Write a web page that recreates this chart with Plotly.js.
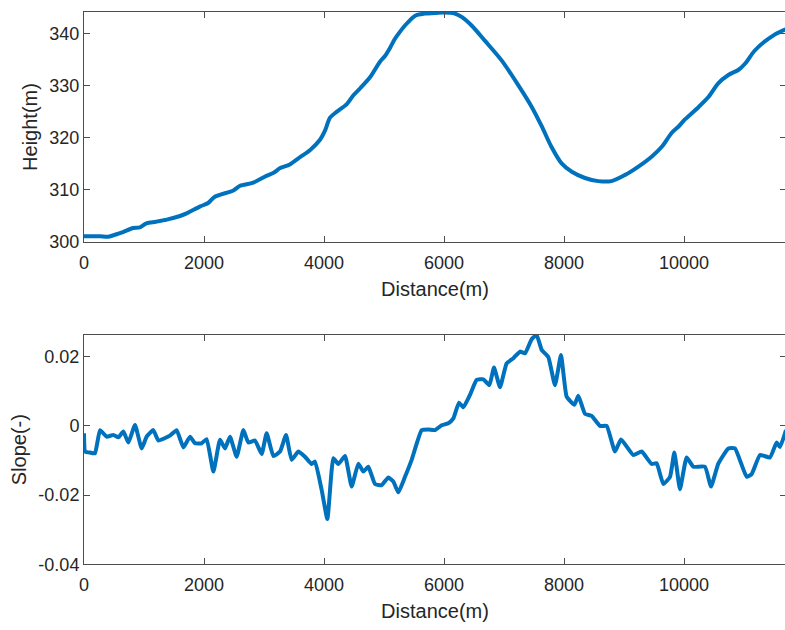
<!DOCTYPE html>
<html>
<head>
<meta charset="utf-8">
<script src="https://cdn.plot.ly/plotly-3.0.1.min.js"></script>
<style>
html, body { margin: 0; padding: 0; overflow: hidden; background: #fff; }
#chart { width: 790px; height: 630px; }
</style>
</head>
<body>
<div id="chart"></div>
<script>
// Height profile
const heightDist = [0, 150, 270, 400, 490, 650, 820, 930, 1040, 1200, 1380, 1600, 1710, 1930, 2070, 2180, 2490, 2600, 2820, 3040, 3160, 3270, 3430, 3600, 3770, 3930, 4020, 4100, 4210, 4380, 4490, 4600, 4770, 4930, 5020, 5100, 5180, 5240, 5350, 5520, 5680, 5850, 5990, 6180, 6300, 6460, 6680, 6960, 7240, 7460, 7630, 7790, 7960, 8130, 8350, 8570, 8790, 9020, 9240, 9460, 9630, 9790, 9910, 10020, 10240, 10410, 10570, 10740, 10910, 11020, 11180, 11410, 11660, 11750];
const heightVals = [301.1, 301.1, 301.1, 301.0, 301.3, 301.9, 302.7, 302.8, 303.6, 303.9, 304.3, 305.0, 305.5, 306.8, 307.5, 308.7, 309.9, 310.8, 311.4, 312.7, 313.3, 314.2, 314.9, 316.3, 317.7, 319.6, 321.5, 323.9, 325.0, 326.5, 328.2, 329.5, 331.7, 334.6, 335.8, 337.3, 339.0, 340.0, 341.6, 343.5, 343.9, 344.0, 344.1, 343.9, 343.2, 341.6, 338.7, 334.9, 330.1, 326.0, 322.2, 318.3, 315.1, 313.5, 312.3, 311.7, 311.7, 312.9, 314.5, 316.4, 318.3, 320.9, 322.2, 323.6, 325.9, 327.9, 330.5, 332.1, 333.1, 334.3, 336.8, 339.1, 340.7, 341.0];

// Slope profile
const slopeDist = [0, 20, 100, 183, 267, 378, 489, 572, 656, 739, 850, 961, 1044, 1156, 1239, 1433, 1544, 1656, 1767, 1850, 1961, 2044, 2156, 2267, 2350, 2433, 2544, 2656, 2739, 2850, 2961, 3044, 3156, 3267, 3367, 3461, 3572, 3683, 3794, 3850, 3961, 4056, 4156, 4239, 4350, 4461, 4572, 4656, 4739, 4850, 4961, 5072, 5156, 5239, 5350, 5461, 5628, 5739, 5850, 5961, 6072, 6156, 6250, 6322, 6433, 6544, 6656, 6756, 6833, 6933, 7044, 7156, 7267, 7350, 7461, 7544, 7628, 7739, 7850, 7950, 8044, 8172, 8239, 8350, 8461, 8600, 8711, 8850, 8950, 9156, 9294, 9461, 9544, 9656, 9767, 9839, 9933, 10044, 10156, 10350, 10450, 10572, 10739, 10850, 11044, 11128, 11267, 11433, 11544, 11600, 11700];
const slopeVals = [-0.0021, -0.0074, -0.0077, -0.0079, -0.0012, -0.0031, -0.0026, -0.0033, -0.0016, -0.0048, 0.0003, -0.0065, -0.0031, -0.0012, -0.0042, -0.0028, -0.0012, -0.0062, -0.0031, -0.0050, -0.0050, -0.0038, -0.0132, -0.0040, -0.0065, -0.0031, -0.0089, -0.0012, -0.0048, -0.0042, -0.0081, -0.0021, -0.0087, -0.0074, -0.0026, -0.0098, -0.0074, -0.0089, -0.0110, -0.0103, -0.0185, -0.0269, -0.0093, -0.0110, -0.0087, -0.0175, -0.0109, -0.0132, -0.0118, -0.0168, -0.0171, -0.0149, -0.0161, -0.0192, -0.0147, -0.0098, -0.0012, -0.0010, -0.0012, 0.0002, 0.0008, 0.0022, 0.0067, 0.0054, 0.0090, 0.0133, 0.0135, 0.0118, 0.0169, 0.0112, 0.0181, 0.0196, 0.0215, 0.0210, 0.0251, 0.0263, 0.0220, 0.0199, 0.0118, 0.0205, 0.0085, 0.0061, 0.0087, 0.0035, 0.0029, 0.0000, 0.0000, -0.0074, -0.0039, -0.0084, -0.0074, -0.0110, -0.0108, -0.0168, -0.0147, -0.0077, -0.0183, -0.0091, -0.0118, -0.0118, -0.0175, -0.0109, -0.0065, -0.0065, -0.0147, -0.0139, -0.0084, -0.0091, -0.0048, -0.0061, -0.0012];

// Tick labels
const xTickVals = [0, 2000, 4000, 6000, 8000, 10000];
const xTickText = ['0', '2000', '4000', '6000', '8000', '10000'];
const hTickVals = [300, 310, 320, 330, 340];
const hTickText = ['300', '310', '320', '330', '340'];
const sTickVals = [-0.04, -0.02, 0, 0.02];
const sTickText = ['-0.04', '-0.02', '0', '0.02'];

const lineColor = '#0072BD';
const axisColor = '#4d4d4d';
const textColor = '#262626';
const fontFam = 'Liberation Sans, Arial, sans-serif';

function xAxis(anchor) {
  return {
    domain: [84/790, 786/790], anchor: anchor, range: [0, 11700],
    tickmode: 'array', tickvals: xTickVals, ticktext: xTickText,
    ticks: 'inside', ticklen: 6, tickwidth: 1, tickcolor: axisColor,
    ticklabelstandoff: 4,
    showline: true, linecolor: axisColor, linewidth: 1, mirror: 'ticks',
    showgrid: false, zeroline: false, automargin: false,
    tickfont: {family: fontFam, size: 18, color: textColor},
    title: {text: 'Distance(m)', font: {family: fontFam, size: 20, color: textColor}, standoff: 10}
  };
}

const data = [
  {x: heightDist, y: heightVals, type: 'scatter', mode: 'lines', xaxis: 'x', yaxis: 'y',
   line: {color: lineColor, width: 4, shape: 'spline', smoothing: 0.8}},
  {x: slopeDist, y: slopeVals, type: 'scatter', mode: 'lines', xaxis: 'x2', yaxis: 'y2',
   line: {color: lineColor, width: 4, shape: 'spline', smoothing: 0.4}}
];

const layout = {
  width: 790, height: 630,
  margin: {l: 0, r: 0, t: 0, b: 0},
  paper_bgcolor: '#fff', plot_bgcolor: '#fff',
  showlegend: false,
  xaxis: xAxis('y'),
  xaxis2: xAxis('y2'),
  yaxis: {
    domain: [1 - 242/630, 1 - 12/630], anchor: 'x', range: [300, 344.2],
    tickmode: 'array', tickvals: hTickVals, ticktext: hTickText,
    ticks: 'inside', ticklen: 6, tickwidth: 1, tickcolor: axisColor,
    showline: true, linecolor: axisColor, linewidth: 1, mirror: 'ticks',
    showgrid: false, zeroline: false, automargin: false,
    tickfont: {family: fontFam, size: 18, color: textColor},
    title: {text: 'Height(m)', font: {family: fontFam, size: 20, color: textColor}, standoff: 6}
  },
  yaxis2: {
    domain: [1 - 564.3/630, 1 - 335/630], anchor: 'x2', range: [-0.04, 0.0263],
    tickmode: 'array', tickvals: sTickVals, ticktext: sTickText,
    ticks: 'inside', ticklen: 6, tickwidth: 1, tickcolor: axisColor,
    showline: true, linecolor: axisColor, linewidth: 1, mirror: 'ticks',
    showgrid: false, zeroline: false, automargin: false,
    tickfont: {family: fontFam, size: 18, color: textColor},
    title: {text: 'Slope(-)', font: {family: fontFam, size: 20, color: textColor}, standoff: 6}
  }
};

Plotly.newPlot('chart', data, layout, {displayModeBar: false, staticPlot: true});
</script>
</body>
</html>
